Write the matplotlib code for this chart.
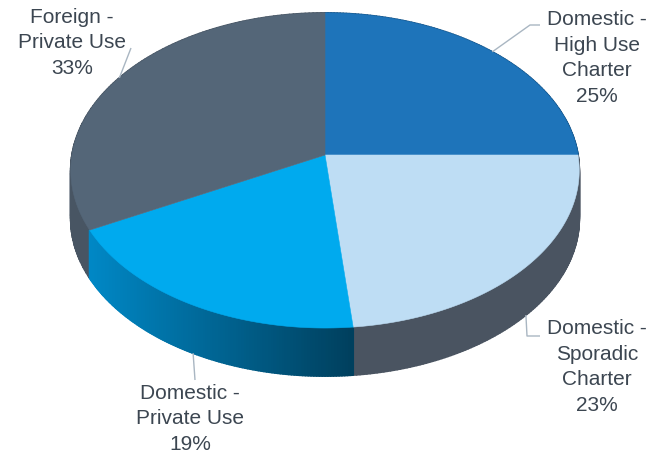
import numpy as np
import matplotlib.pyplot as plt
from matplotlib.patches import Polygon
from matplotlib.collections import PolyCollection
from matplotlib.colors import to_rgb

# slice data, clockwise from 12 o'clock
labels = ['Domestic -\nHigh Use\nCharter', 'Domestic -\nSporadic\nCharter',
          'Domestic -\nPrivate Use', 'Foreign -\nPrivate Use']
shares = [25.0, 23.4, 19.0, 32.6]
top_colors = ['#1E74BA', '#BEDDF4', '#00AAEE', '#546678']
side_colors = ['#17568A', '#4A5461', ('#0088C6', '#00405E'), '#485563']

# label layout (pixel coords, y down): text center and leader line bend points
label_pos = [(597, 58), (597, 367), (190, 419), (72, 43)]
leader_pts = [[(530, 25), (540, 25)], [(527, 336), (540, 336)],
              [(195, 380)], [(131, 48)]]

W, H = 649, 455
CX, CY = 325, 155        # projected pie center
A, B, K = 253, 156, 0.0984   # perspective ellipse params
DEPTH = 48


def proj(theta):
    u, v = np.sin(theta), np.cos(theta)
    w = 1 + K * v
    return CX + A * u / w, CY - B * v / w


fig = plt.figure(figsize=(W / 100, H / 100), dpi=100)
ax = fig.add_axes([0, 0, 1, 1])
ax.set_xlim(0, W)
ax.set_ylim(H, 0)
ax.axis('off')

fracs = np.array(shares) / sum(shares)
bounds = np.concatenate([[0], np.cumsum(fracs)]) * 2 * np.pi

# sides: small quads, painted back to front
quads, qcols, qkeys = [], [], []
for i in range(len(shares)):
    th = np.linspace(bounds[i], bounds[i + 1], 120)
    xs, ys = proj(th)
    for j in range(len(th) - 1):
        q = [(xs[j], ys[j]), (xs[j + 1], ys[j + 1]),
             (xs[j + 1], ys[j + 1] + DEPTH), (xs[j], ys[j] + DEPTH)]
        sc = side_colors[i]
        if isinstance(sc, tuple):
            xm = (xs[j] + xs[j + 1]) / 2
            c0, c1 = np.array(to_rgb(sc[0])), np.array(to_rgb(sc[1]))
            t = np.clip((xm - 90) / (350 - 90), 0, 1)
            col = tuple(c0 + (c1 - c0) * t)
        else:
            col = to_rgb(sc)
        quads.append(q)
        qcols.append(col)
        qkeys.append((ys[j] + ys[j + 1]) / 2)

order = np.argsort(qkeys)
pc = PolyCollection([quads[k] for k in order],
                    facecolors=[qcols[k] for k in order],
                    edgecolors=[qcols[k] for k in order], linewidths=1.3, zorder=1)
ax.add_collection(pc)

# top faces
for i in range(len(shares)):
    th = np.linspace(bounds[i], bounds[i + 1], 200)
    xs, ys = proj(th)
    pts = [(CX, CY)] + list(zip(xs, ys))
    ax.add_patch(Polygon(pts, closed=True, facecolor=top_colors[i],
                         edgecolor=top_colors[i], linewidth=0.4, zorder=2))

# labels and leader lines
for i in range(len(shares)):
    mid = (bounds[i] + bounds[i + 1]) / 2
    x0, y0 = proj(mid)
    if np.cos(mid) < 0:
        y0 += DEPTH
    path = [(x0, y0)] + leader_pts[i]
    ax.plot([p[0] for p in path], [p[1] for p in path], color='#A9B6C2',
            lw=1, zorder=3, solid_capstyle='butt')
    txt = f'{labels[i]}\n{round(shares[i])}%'
    ax.text(label_pos[i][0], label_pos[i][1], txt, ha='center', va='center',
            multialignment='center', fontsize=15, linespacing=1.44,
            color='#3C4651', family='Liberation Sans', zorder=4)

fig.savefig('out.png', dpi=100)
